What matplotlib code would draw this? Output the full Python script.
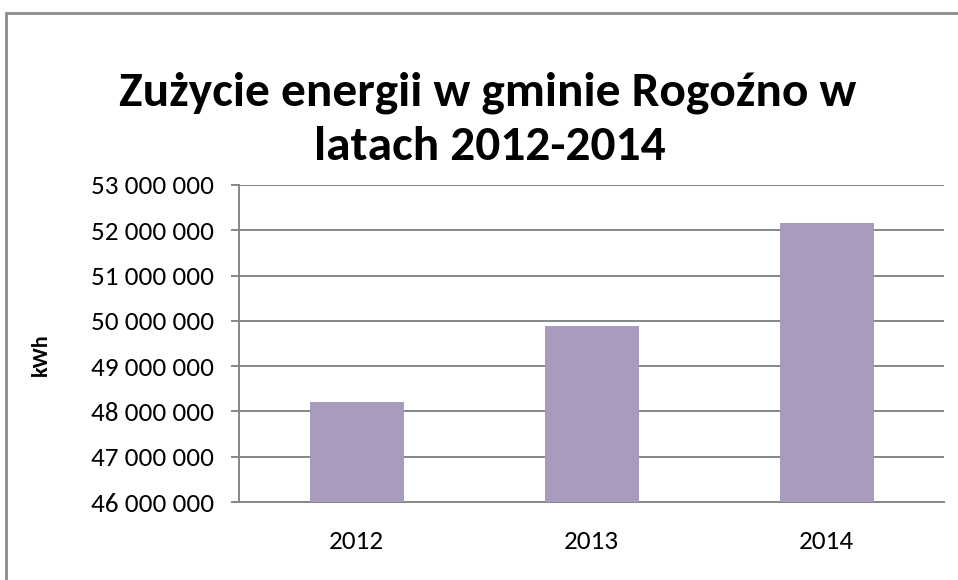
import matplotlib
matplotlib.use("Agg")
import matplotlib.pyplot as plt
from matplotlib import font_manager
from matplotlib.patches import Rectangle
from matplotlib.ticker import FuncFormatter

years = ["2012", "2013", "2014"]
energy_kwh = [48200000, 49880000, 52150000]

title_lines = ["Zużycie energii w gminie Rogoźno w", "latach 2012-2014"]
ylabel = "kWh"

available = {f.name for f in font_manager.fontManager.ttflist}
family = "DejaVu Sans"
for name in ["Carlito", "Liberation Sans Narrow", "Open Sans", "Liberation Sans"]:
    if name in available:
        family = name
        break
plt.rcParams["font.family"] = [family, "DejaVu Sans"]

grid_col = "#868686"
bar_col = "#A99BBE"


def fmt_thousands(v, pos):
    return "{:,.0f}".format(v).replace(",", " ")


W, H = 958, 580
fig = plt.figure(figsize=(W / 100, H / 100), dpi=100)
ax = fig.add_axes([239 / W, 1 - 502 / H, 705 / W, 317 / H])

# outer chart frame, cut off at the right and bottom like the original
fig.patches.append(Rectangle((6 / W, -0.2), 1.5, 1.2 - 13 / H,
                             transform=fig.transFigure, fill=False,
                             edgecolor="#8C8C8C", linewidth=2.0))

ax.bar(range(len(years)), energy_kwh, width=0.4, color=bar_col, zorder=3)
ax.set_xlim(-0.5, len(years) - 0.5)
ax.set_ylim(46000000, 53000000)
ax.set_yticks(range(46000000, 53000001, 1000000))
ax.yaxis.set_major_formatter(FuncFormatter(fmt_thousands))
ax.set_xticks(range(len(years)))
ax.set_xticklabels(years)

ax.grid(axis="y", color=grid_col, linewidth=1.4, zorder=0)
for s in ["top", "right"]:
    ax.spines[s].set_visible(False)
for s in ["left", "bottom"]:
    ax.spines[s].set_color(grid_col)
    ax.spines[s].set_linewidth(1.4)
ax.tick_params(axis="y", length=6, width=1.4, color=grid_col, labelsize=19.5, pad=12)
ax.tick_params(axis="x", length=0, labelsize=19.5, pad=20)

ax.set_ylabel(ylabel, fontsize=16, fontweight="bold", va="center")
ax.yaxis.set_label_coords((41 - 239) / 705, 0.465)

# title, two lines, baselines
t1 = fig.text(488 / W, 1 - 106 / H, title_lines[0], ha="center", va="baseline",
              fontsize=35, fontweight="bold")
t2 = fig.text(490 / W, 1 - 160 / H, title_lines[1], ha="center", va="baseline",
              fontsize=35, fontweight="bold")
fig.canvas.draw()
w1 = t1.get_window_extent().width
size = 35 * 740 / w1
t1.set_fontsize(size)
t2.set_fontsize(size)

fig.savefig("out.png", dpi=100)
